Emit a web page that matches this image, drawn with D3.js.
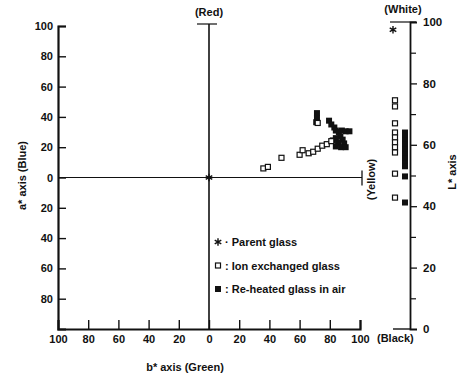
<!DOCTYPE html>
<html>
<head>
<meta charset="utf-8">
<script src="https://cdn.jsdelivr.net/npm/d3@7"></script>
<style>
  body { margin: 0; background: #fff; }
  text { font-family: "Liberation Sans", Arial, sans-serif; font-weight: bold; fill: #111; }
</style>
</head>
<body>
<div id="chart"></div>
<script>
// chart data
var series = ["Parent glass", "Ion exchanged glass", "Re-heated glass in air"];

// a*-b* plane
var parentB = [0];
var parentA = [0];
var ionB = [36, 39, 48, 60, 62, 66, 69, 72, 75, 78, 81, 72];
var ionA = [6, 7, 13, 15, 18, 16, 17, 19, 21, 22, 24, 36];
var reheatB = [71.5, 71.5, 71, 79.5, 81, 83, 84, 86, 88, 90.5, 93, 87, 84, 88.5, 85.5, 89.5, 84, 87.5, 90.5, 82];
var reheatA = [42.5, 39, 36.5, 37.5, 35, 33, 31, 30, 31, 30.5, 30.5, 27, 26, 25, 23, 22.5, 20.5, 20, 20, 24.5];

// L* column
var parentL = [97.5];
var ionL = [74.5, 72.5, 67, 64, 62.4, 60.8, 59.2, 57.5, 50.6, 42.8];
var reheatL = [64, 63, 61.5, 60, 58.5, 57, 55.5, 54, 53, 49.7, 41.2];

var abTicks = [-100, -80, -60, -40, -20, 0, 20, 40, 60, 80, 100];
var lTicks = [0, 20, 40, 60, 80, 100];
var lMinor = [10, 30, 50, 70, 90];

var svgWidth = 466;
var svgHeight = 382;

var svg = d3.select("#chart")
  .append("svg")
  .attr("width", svgWidth)
  .attr("height", svgHeight);

// scales
var xScale = d3.scaleLinear().domain([-100, 100]).range([58, 360]);
var yScale = d3.scaleLinear().domain([-100, 100]).range([329, 26]);
var lScale = d3.scaleLinear().domain([0, 100]).range([329, 22]);
var colScale = d3.scaleOrdinal().domain(series).range([393, 395, 405]);

var absFmt = d => Math.abs(d);

// left a* axis (ticks point inward, labels outside)
var leftAxis = svg.append("g")
  .attr("transform", `translate(${xScale(-100)}, 0)`)
  .call(d3.axisLeft(yScale).tickValues(abTicks.slice(1)).tickFormat(absFmt).tickSize(-8).tickPadding(5));

// bottom b* axis
var bottomAxis = svg.append("g")
  .attr("transform", `translate(0, ${yScale(-100)})`)
  .call(d3.axisBottom(xScale).tickValues(abTicks).tickFormat(absFmt).tickSize(-9).tickPadding(6));

[leftAxis, bottomAxis].forEach(function(ax) {
  ax.select(".domain").attr("stroke", "#111").attr("stroke-width", 2.2);
  ax.selectAll(".tick line").attr("stroke", "#111").attr("stroke-width", 1.4);
  ax.selectAll(".tick text").style("font-size", "11px").style("font-family", "Liberation Sans, Arial, sans-serif").style("font-weight", "bold");
});
bottomAxis.selectAll(".tick").filter(d => d === -100).select("line").remove();

// center cross
var cross = svg.append("g").attr("stroke", "#111").attr("fill", "none");
cross.append("line")
  .attr("x1", xScale(0)).attr("x2", xScale(0))
  .attr("y1", yScale(-100)).attr("y2", yScale(100) - 2)
  .attr("stroke-width", 1.6);
cross.append("line")
  .attr("x1", xScale(0) - 12).attr("x2", xScale(0) + 8)
  .attr("y1", yScale(100) - 2).attr("y2", yScale(100) - 2)
  .attr("stroke-width", 1.2);
cross.append("line")
  .attr("x1", xScale(-100)).attr("x2", xScale(100) + 2)
  .attr("y1", yScale(0)).attr("y2", yScale(0))
  .attr("stroke-width", 1.1);
cross.append("line")
  .attr("x1", xScale(100) + 2).attr("x2", xScale(100) + 2)
  .attr("y1", yScale(0) - 7).attr("y2", yScale(0) + 8)
  .attr("stroke-width", 1.3);

// L* axis on the right
var lAxisX = 410;
var lAxis = svg.append("g")
  .attr("transform", `translate(${lAxisX}, 0)`)
  .call(d3.axisRight(lScale).tickValues(lTicks).tickSize(7).tickPadding(6));
lAxis.select(".domain").attr("stroke", "#111").attr("stroke-width", 1.8);
lAxis.selectAll(".tick line").attr("stroke", "#111").attr("stroke-width", 1.3);
lAxis.selectAll(".tick text").style("font-size", "11.5px").style("font-family", "Liberation Sans, Arial, sans-serif").style("font-weight", "bold");
lAxis.selectAll(".tick").filter(d => d === 0 || d === 100).select("line").remove();

svg.append("g")
  .attr("transform", `translate(${lAxisX}, 0)`)
  .call(d3.axisRight(lScale).tickValues(lMinor).tickSize(6).tickFormat(""))
  .call(g => g.select(".domain").remove())
  .selectAll(".tick line").attr("stroke", "#111").attr("stroke-width", 1.2);

// white / black end marks
svg.append("line")
  .attr("x1", lAxisX - 20).attr("x2", lAxisX + 6)
  .attr("y1", lScale(100)).attr("y2", lScale(100))
  .attr("stroke", "#111").attr("stroke-width", 1.2);
svg.append("line")
  .attr("x1", lAxisX - 17).attr("x2", lAxisX)
  .attr("y1", lScale(0)).attr("y2", lScale(0))
  .attr("stroke", "#111").attr("stroke-width", 1.4);

// axis names
svg.append("text").attr("x", xScale(0)).attr("y", 16)
  .attr("text-anchor", "middle").style("font-size", "11px").text("(Red)");
svg.append("text").attr("x", 403).attr("y", 13)
  .attr("text-anchor", "middle").style("font-size", "11px").text("(White)");
svg.append("text").attr("x", 377).attr("y", 342)
  .style("font-size", "11px").text("(Black)");
svg.append("text").attr("x", 185).attr("y", 371)
  .attr("text-anchor", "middle").style("font-size", "11px").text("b* axis (Green)");
svg.append("text")
  .attr("transform", `translate(26, ${yScale(0) - 2}) rotate(-90)`)
  .attr("text-anchor", "middle").style("font-size", "11px").text("a* axis (Blue)");
svg.append("text")
  .attr("transform", `translate(375, ${yScale(0) + 2}) rotate(-90)`)
  .attr("text-anchor", "middle").style("font-size", "11px").text("(Yellow)");
svg.append("text")
  .attr("transform", `translate(456, 172) rotate(-90)`)
  .attr("text-anchor", "middle").style("font-size", "11px").text("L* axis");

// markers
var sq = 5;
var asterisk = d3.symbol().type(d3.symbolAsterisk).size(40);

function drawOpen(g, pts) {
  g.selectAll(null).data(pts).enter().append("rect")
    .attr("x", d => d[0] - sq / 2).attr("y", d => d[1] - sq / 2)
    .attr("width", sq).attr("height", sq)
    .attr("fill", "#fff").attr("stroke", "#111").attr("stroke-width", 1.2);
}
function drawFilled(g, pts) {
  g.selectAll(null).data(pts).enter().append("rect")
    .attr("x", d => d[0] - 3).attr("y", d => d[1] - 3)
    .attr("width", 6).attr("height", 6)
    .attr("fill", "#111");
}
function drawStar(g, pts) {
  g.selectAll(null).data(pts).enter().append("path")
    .attr("d", asterisk)
    .attr("transform", d => `translate(${d[0]}, ${d[1]})`)
    .attr("stroke", "#111").attr("stroke-width", 1.4).attr("fill", "none");
}

var marks = svg.append("g");

// a*-b* plane points
drawFilled(marks, reheatB.map((b, i) => [xScale(b), yScale(reheatA[i])]));
drawOpen(marks, ionB.map((b, i) => [xScale(b), yScale(ionA[i])]));
drawStar(marks, parentB.map((b, i) => [xScale(b), yScale(parentA[i])]));

// L* column points
drawFilled(marks, reheatL.map(l => [colScale(series[2]), lScale(l)]));
drawOpen(marks, ionL.map(l => [colScale(series[1]), lScale(l)]));
drawStar(marks, parentL.map(l => [colScale(series[0]), lScale(l)]));

// legend
var legendY = d3.scalePoint().domain(series).range([242, 289]);
var legend = svg.append("g");
var legendMarkX = 218;
drawStar(legend, [[legendMarkX, legendY(series[0])]]);
drawOpen(legend, [[legendMarkX, legendY(series[1])]]);
drawFilled(legend, [[legendMarkX, legendY(series[2])]]);
legend.selectAll("text").data(series).enter().append("text")
  .attr("x", legendMarkX + 7)
  .attr("y", d => legendY(d) + 4)
  .style("font-size", "11px")
  .text((d, i) => (i === 0 ? "\u00b7 " : ": ") + d);
</script>
</body>
</html>
